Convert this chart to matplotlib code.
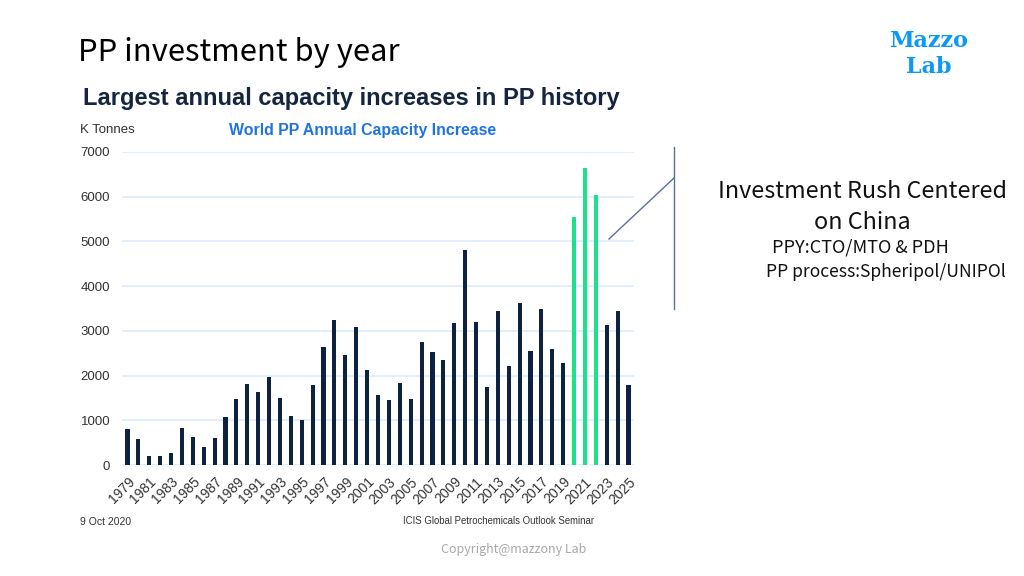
import matplotlib.pyplot as plt
import matplotlib.lines as mlines
import numpy as np

years = list(range(1979, 2026))
capacity = [800, 575, 200, 210, 260, 835, 620, 395, 610, 1080,
            1480, 1815, 1630, 1965, 1490, 1100, 1000, 1790, 2650, 3245,
            2450, 3090, 2135, 1560, 1450, 1830, 1485, 2755, 2530, 2345,
            3180, 4800, 3200, 1755, 3455, 2225, 3620, 2550, 3480, 2605,
            2290, 5545, 6635, 6045, 3140, 3455, 1785]
rush_years = [2020, 2021, 2022]
y_ticks = [0, 1000, 2000, 3000, 4000, 5000, 6000, 7000]

W, H = 1024, 576
NAVY = '#0c2240'
GREEN = '#1fe08c'


def fx(px):
    return px / W


def fy(py):
    return 1 - py / H


fig = plt.figure(figsize=(10.24, 5.76), dpi=100)
fig.patch.set_facecolor('white')

ax = fig.add_axes([fx(122), fy(465), fx(634) - fx(122), fy(152) - fy(465)])
x = np.arange(len(years))
colors = [GREEN if y in rush_years else NAVY for y in years]
ax.bar(x, capacity, width=0.38, color=colors, zorder=3)
ax.set_xlim(-0.5, len(years) - 0.5)
ax.set_ylim(0, 7000)
ax.set_yticks(y_ticks)
ax.set_yticklabels([str(v) for v in y_ticks], fontsize=9.5, color='#333333',
                   family='Liberation Sans')
ax.yaxis.grid(True, color='#dcebfb', linewidth=1.2, zorder=0)
ax.set_xticks(x[::2])
ax.set_xticklabels([str(y) for y in years[::2]], rotation=45, ha='right',
                   rotation_mode='anchor', fontsize=10, color='#333333',
                   family='Liberation Sans')
ax.tick_params(axis='both', length=0)
ax.tick_params(axis='y', pad=8.5)
ax.tick_params(axis='x', pad=7)
for s in ax.spines.values():
    s.set_visible(False)

# titles
fig.text(fx(78), fy(53), 'PP investment by year', fontsize=22.3, color='black',
         family='Noto Sans CJK SC', weight='light', va='center', ha='left')
fig.text(fx(83), fy(98), 'Largest annual capacity increases in PP history',
         fontsize=17, color='#16253f', family='Liberation Sans', weight='bold',
         va='center', ha='left')
fig.text(fx(80), fy(130), 'K Tonnes', fontsize=9.5, color='#333333',
         family='Liberation Sans', va='center', ha='left')
fig.text(fx(229), fy(130), 'World PP Annual Capacity Increase', fontsize=11.4,
         color='#1f74e0', family='Liberation Sans', weight='bold',
         va='center', ha='left')

# footer
fig.text(fx(80), fy(522), '9 Oct 2020', fontsize=7.5, color='#333333',
         family='Liberation Sans', va='center', ha='left')
fig.text(fx(403), fy(521), 'ICIS Global Petrochemicals Outlook Seminar',
         fontsize=6.9, color='#333333', family='Liberation Sans',
         va='center', ha='left')
fig.text(fx(441), fy(550), 'Copyright@mazzony Lab', fontsize=9, color='#a8a8a8',
         family='Noto Sans CJK SC', weight='light', va='center', ha='left')

# logo
fig.text(fx(929), fy(41), 'Mazzo', fontsize=16, color='#0c98f5',
         family='DejaVu Serif', weight='bold', va='center', ha='center')
fig.text(fx(929), fy(67), 'Lab', fontsize=16, color='#0c98f5',
         family='DejaVu Serif', weight='bold', va='center', ha='center')

# annotation
fig.add_artist(mlines.Line2D([fx(674), fx(674)], [fy(147), fy(309)],
                             color='#5a6ea0', linewidth=1.0))
fig.add_artist(mlines.Line2D([fx(609), fx(674)], [fy(239), fy(178)],
                             color='#5a6ea0', linewidth=1.0))
fig.text(fx(862), fy(192), 'Investment Rush Centered', fontsize=16.8,
         color='#111111', family='Noto Sans CJK SC', weight='light',
         va='center', ha='center')
fig.text(fx(862), fy(222), 'on China', fontsize=16.8, color='#111111',
         family='Noto Sans CJK SC', weight='light', va='center', ha='center')
fig.text(fx(772), fy(247), 'PPY:CTO/MTO & PDH', fontsize=13, color='#111111',
         family='Noto Sans CJK SC', weight='light', va='center', ha='left')
fig.text(fx(766), fy(272), 'PP process:Spheripol/UNIPOl', fontsize=12.6,
         color='#111111', family='Noto Sans CJK SC', weight='light',
         va='center', ha='left')

fig.savefig('out.png', dpi=100)
